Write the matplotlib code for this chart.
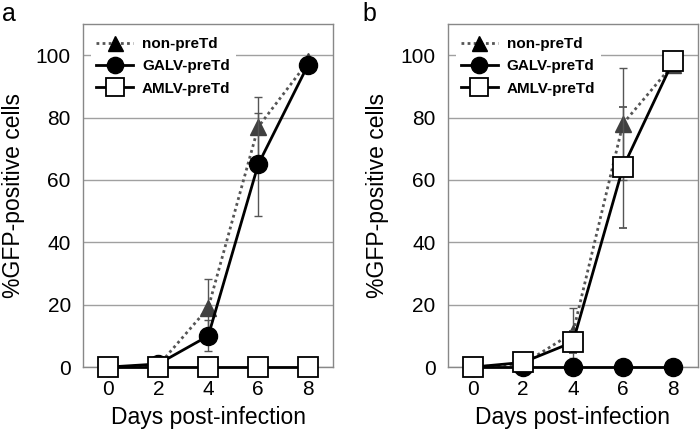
import matplotlib
matplotlib.use("Agg")
import matplotlib.pyplot as plt
import numpy as np

plt.rcParams['font.family'] = ['Liberation Sans', 'DejaVu Sans']

days = [0, 2, 4, 6, 8]
labels = ["non-preTd", "GALV-preTd", "AMLV-preTd"]

# Panel a
a_non = [0, 0.5, 19, 77, 98]
a_non_err = [0, 0, 9.4, 9.6, 0]
a_galv = [0, 1, 10, 65, 97]
a_galv_err = [0, 0, 5, 16.5, 0]
a_amlv = [0, 0, 0, 0, 0]
a_amlv_err = [0, 0, 0, 0, 0]

# Panel b
b_non = [0, 1, 11, 78, 97]
b_non_err = [0, 0, 8, 18, 0]
b_galv = [0, 0, 0, 0, 0]
b_galv_err = [0, 0, 0, 0, 0]
b_amlv = [0, 1.5, 8, 64, 98]
b_amlv_err = [0, 0, 3.5, 19.5, 0]

yticks = [0, 20, 40, 60, 80, 100]

fig = plt.figure(figsize=(7, 4.37), dpi=100)
axa = fig.add_axes([0.119, 0.160, 0.357, 0.785])
axb = fig.add_axes([0.640, 0.160, 0.357, 0.785])

tri_col = '#404040'

def draw(ax, non, non_e, galv, galv_e, amlv, amlv_e, order):
    ax.set_xlim(-1, 9)
    ax.set_ylim(0, 110)
    ax.set_yticks(yticks)
    ax.set_xticks(days)
    ax.grid(axis='y', color='#a0a0a0', lw=1)
    ax.set_axisbelow(True)
    for s in ax.spines.values():
        s.set_color('#888888')
        s.set_linewidth(1)
    ax.tick_params(length=0, labelsize=15, pad=9)
    ax.set_xlabel("Days post-infection", fontsize=16.5, labelpad=5)
    ax.set_ylabel("%GFP-positive cells", fontsize=16.5, labelpad=8)
    ekw = dict(ecolor='#555555', elinewidth=1, capsize=3, capthick=1, clip_on=False)
    h = {}
    h['non'] = ax.errorbar(days, non, yerr=non_e, color='#555555', ls=(0, (1, 1.2)), lw=2,
                           marker='^', ms=12, mfc=tri_col, mec=tri_col, zorder=order['non'], **ekw)
    h['galv'] = ax.errorbar(days, galv, yerr=galv_e, color='black', ls='-', lw=2,
                            marker='o', ms=13, mfc='black', mec='black', zorder=order['galv'], **ekw)
    h['amlv'] = ax.errorbar(days, amlv, yerr=amlv_e, color='black', ls='-', lw=2,
                            marker='s', ms=14, mfc='white', mec='black', mew=1.3, zorder=order['amlv'], **ekw)
    leg = ax.legend([h['non'][0], h['galv'][0], h['amlv'][0]], labels, loc='upper left',
                    bbox_to_anchor=(0.0, 1.0), frameon=True, fancybox=False, edgecolor='none',
                    facecolor='white', framealpha=1, prop={'weight': 'bold', 'size': 11},
                    handlelength=2.4, markerscale=0.9, borderpad=0.35, labelspacing=0.55,
                    handletextpad=0.6)
    leg.legend_handles[0].set_markerfacecolor('black')
    leg.legend_handles[0].set_markeredgecolor('black')
    leg.set_zorder(10)

draw(axa, a_non, a_non_err, a_galv, a_galv_err, a_amlv, a_amlv_err,
     {'non': 3, 'galv': 4, 'amlv': 5})
draw(axb, b_non, b_non_err, b_galv, b_galv_err, b_amlv, b_amlv_err,
     {'non': 3, 'galv': 4, 'amlv': 5})

fig.text(0.003, 0.995, "a", fontsize=18, va='top', ha='left')
fig.text(0.518, 0.995, "b", fontsize=18, va='top', ha='left')

fig.savefig("out.png", dpi=100)
